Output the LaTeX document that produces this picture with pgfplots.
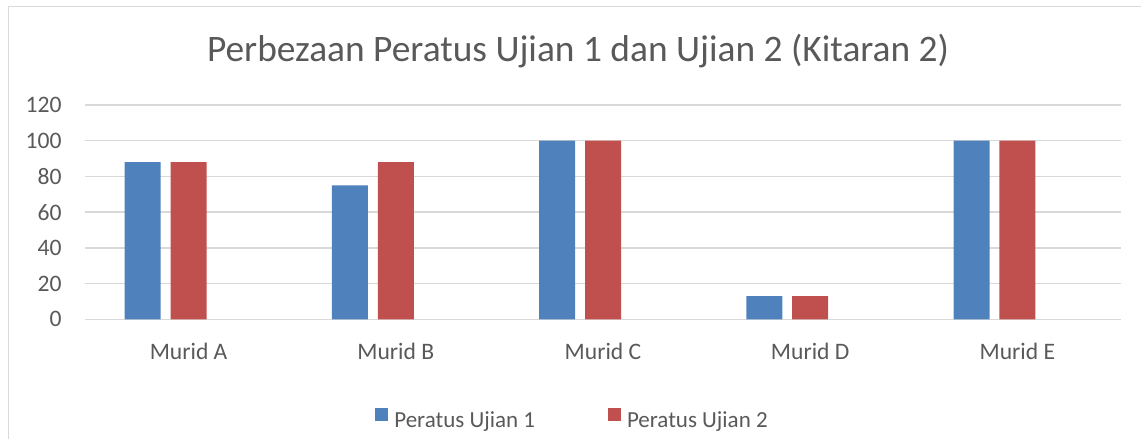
\documentclass[border=0pt]{standalone}
\usepackage{pgfplots}
\pgfplotsset{compat=1.18}
\usepackage{fontspec}
\setmainfont{Carlito}
\definecolor{bblue}{HTML}{4F81BD}
\definecolor{bred}{HTML}{C0504D}
\definecolor{txt}{HTML}{595959}
\definecolor{grd}{HTML}{D9D9D9}
\begin{document}
\begin{tikzpicture}
\path[use as bounding box] (0,0) rectangle (570.5pt,219.5pt);
\draw[grd, line width=0.75pt] (4.25pt,0) -- (4.25pt,216.25pt) -- (570.5pt,216.25pt);
\begin{axis}[
  at={(42.5pt,59.85pt)}, anchor=south west,
  scale only axis, width=518pt, height=107.15pt,
  xmin=-0.5, xmax=4.5, ymin=0, ymax=120,
  ytick={0,20,...,120},
  xtick={0,1,2,3,4},
  xticklabels={Murid A,Murid B,Murid C,Murid D,Murid E},
  major tick length=0pt,
  axis line style={draw=none},
  ymajorgrids, grid style={grd, line width=0.65pt},
  tick label style={font=\fontsize{11.8pt}{14pt}\selectfont, text=txt},
  /pgf/number format/assume math mode=true,
  yticklabel style={inner sep=0pt, anchor=east, xshift=-11.5pt},
  xticklabel style={inner sep=0pt, anchor=center, yshift=-15.85pt},
  legend style={at={(0.4696,-0.4652)}, anchor=center, draw=none, fill=none,
    font=\fontsize{11.5pt}{14pt}\selectfont, text=txt,
    nodes={inner sep=0pt, anchor=west},
    legend columns=2,
    /tikz/every odd column/.append style={column sep=3pt},
    /tikz/every even column/.append style={column sep=36.5pt}},
  legend image code/.code={\fill[#1] (0pt,0pt) rectangle (6.5pt,6.5pt);},
]
\addplot[ybar, bar width=18pt, bar shift=-22.95pt, fill=bblue, draw=none]
  coordinates {(0,88) (1,75) (2,100) (3,13) (4,100)};
\addlegendentry{Peratus Ujian 1}
\addplot[ybar, bar width=18pt, bar shift=0pt, fill=bred, draw=none]
  coordinates {(0,88) (1,88) (2,100) (3,13) (4,100)};
\addlegendentry{Peratus Ujian 2}
\end{axis}
\node[text=txt, font=\fontsize{18.7pt}{22pt}\selectfont] at (289pt,194pt) {Perbezaan Peratus Ujian 1 dan Ujian 2 (Kitaran 2)};
\end{tikzpicture}
\end{document}
